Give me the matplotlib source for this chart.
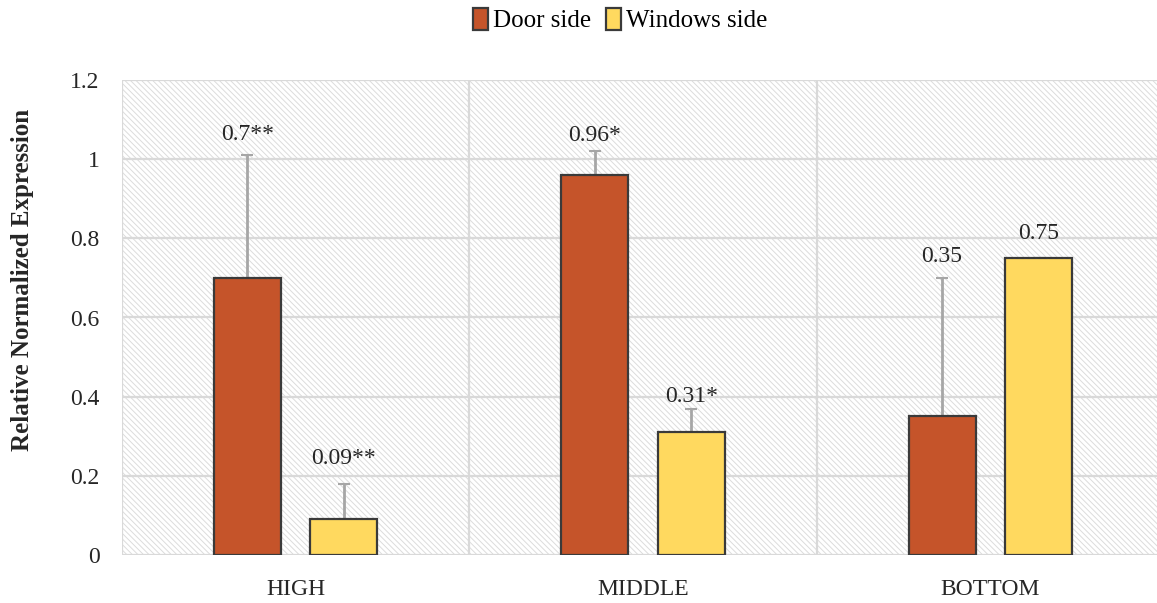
import matplotlib.pyplot as plt
import numpy as np
from matplotlib.patches import Rectangle

# relative expression per height level
positions = ['HIGH', 'MIDDLE', 'BOTTOM']
door_side = [0.70, 0.96, 0.35]
windows_side = [0.09, 0.31, 0.75]
door_err = [0.31, 0.06, 0.35]
windows_err = [0.09, 0.06, 0.0]
door_labels = ['0.7**', '0.96*', '0.35']
windows_labels = ['0.09**', '0.31*', '0.75']

# label gaps above the error caps, in pixels
door_gap = [15, 10, 16]
windows_gap = [20, 7, 19]

plt.rcParams['font.family'] = ['Liberation Serif', 'DejaVu Serif']
plt.rcParams['hatch.linewidth'] = 0.7

DPI = 100
fig = plt.figure(figsize=(11.57, 6.03), dpi=DPI)
W, H = 1157, 603
left, right, top, bottom = 122, 1164, 80, 555
ax = fig.add_axes([left / W, (H - bottom) / H, (right - left) / W, (bottom - top) / H])

# fine diagonal hatch behind the plot
ax.add_patch(Rectangle((0, 0), 1, 1, transform=ax.transAxes, facecolor='white',
                       edgecolor='#dcdcdc', linewidth=0, hatch='\\' * 6, zorder=0))

x = np.arange(len(positions))
width = 0.193
off = 0.139
grey = '#d9d9d9'
txt = '#262626'
fs = 17

for i in np.arange(0, 1.21, 0.2):
    ax.axhline(i, color=grey, lw=1.6, zorder=1)
for b in np.arange(-0.5, 3.0, 1.0):
    ax.axvline(b, color=grey, lw=1.6, zorder=1)

bars_d = ax.bar(x - off, door_side, width, color='#C5542A', edgecolor='#3a3a3a',
                linewidth=1.6, label='Door side', zorder=3)
bars_w = ax.bar(x + off, windows_side, width, color='#FFD95F', edgecolor='#3a3a3a',
                linewidth=1.6, label='Windows side', zorder=3)

ax.errorbar(x - off, door_side, yerr=[np.zeros(3), door_err], fmt='none',
            ecolor='#a6a6a6', elinewidth=2, capsize=4, capthick=1.5, zorder=2)
ax.errorbar(x + off, windows_side, yerr=[np.zeros(3), windows_err], fmt='none',
            ecolor='#a6a6a6', elinewidth=2, capsize=4, capthick=1.5, zorder=2)

for xs, vals, errs, labs, gaps in [(x - off, door_side, door_err, door_labels, door_gap),
                                    (x + off, windows_side, windows_err, windows_labels, windows_gap)]:
    for xi, v, e, lab, g in zip(xs, vals, errs, labs, gaps):
        ax.annotate(lab, (xi, v + e), xytext=(0, g * 72 / DPI), textcoords='offset points',
                    ha='center', va='baseline', fontsize=fs, color=txt, zorder=5)

ax.set_xlim(-0.5, 2.5)
ax.set_ylim(0, 1.2)
ax.set_yticks([0, 0.2, 0.4, 0.6, 0.8, 1.0, 1.2])
ax.set_yticklabels(['0', '0.2', '0.4', '0.6', '0.8', '1', '1.2'])
ax.set_xticks(x)
ax.set_xticklabels(positions)
ax.tick_params(axis='both', length=0, labelsize=fs, labelcolor=txt)
ax.tick_params(axis='y', pad=16)
ax.tick_params(axis='x', pad=17)
for s in ax.spines.values():
    s.set_visible(False)

ax.set_ylabel('Relative Normalized Expression', fontsize=18, fontweight='bold', color=txt)
ax.yaxis.set_label_coords(-0.084, 0.579)

fig.legend(handles=[bars_d, bars_w], loc='center', bbox_to_anchor=(620 / W, 1 - 20 / H),
           ncol=2, frameon=False, fontsize=18, handlelength=0.6, handleheight=1.0,
           handletextpad=0.2, columnspacing=0.6)

fig.savefig('out.png', dpi=DPI)
